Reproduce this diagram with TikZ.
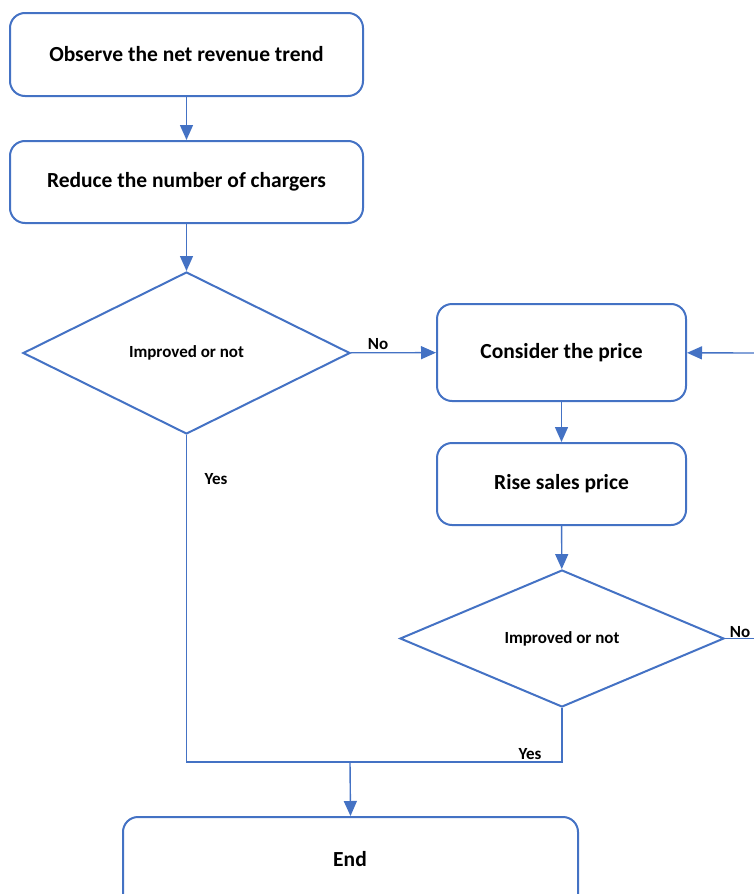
\documentclass[tikz,border=0pt]{standalone}
\usepackage{fontspec}
\setmainfont{Carlito}
\usetikzlibrary{shapes.geometric,arrows.meta}
\definecolor{flowblue}{HTML}{4472C4}
\begin{document}
\begin{tikzpicture}[x=1pt,y=-1pt,
    stepbox/.style={draw=flowblue,line width=2pt,rounded corners=15pt,align=center,inner sep=0pt,font=\bfseries\fontsize{21.5}{24}\selectfont},
    decide/.style={draw=flowblue,line width=2pt,diamond,inner sep=0pt,font=\bfseries\fontsize{17}{19}\selectfont},
    flow/.style={draw=flowblue,line width=1.4pt,-{Triangle[length=15pt,width=13pt]}},
    plain/.style={draw=flowblue,line width=1.4pt},
    lbl/.style={font=\bfseries\fontsize{17}{19}\selectfont,inner sep=0pt}]
        \useasboundingbox (0,0) rectangle (754,894);

        % Left column
        \node[stepbox,minimum width=353pt,minimum height=83pt] (observe) at (186.5,54.5) {Observe the net revenue trend};
        \node[stepbox,minimum width=353pt,minimum height=82pt] (reduce) at (186.5,182) {Reduce the number of chargers};
        \node[decide,minimum width=327pt,minimum height=162pt] (check1) at (186.5,353) {Improved or not};

        % Right column
        \node[stepbox,minimum width=249pt,minimum height=97pt] (price) at (561.5,352.5) {Consider the price};
        \node[stepbox,minimum width=249pt,minimum height=82pt] (rise) at (561.5,484) {Rise sales price};
        \node[decide,minimum width=324pt,minimum height=137pt] (check2) at (562,638.5) {Improved or not};

        % End box runs past the bottom edge
        \node[stepbox,minimum width=455pt,minimum height=100pt] (finish) at (350.5,867) {};
        \node[lbl,font=\bfseries\fontsize{21.5}{24}\selectfont] (endtxt) at (350,859) {End};

        % Free ends and joints
        \coordinate (backin) at (754,353);
        \coordinate (noout) at (754,638.5);
        \coordinate (joinR) at (562,762);
        \coordinate (merge) at (350,762);

        % Connectors
        \draw[flow] (observe) -- (reduce);
        \draw[flow] (reduce) -- (check1);
        \draw[flow] (check1) -- (price);
        \draw[flow] (price) -- (rise);
        \draw[flow] (rise) -- (check2);
        \draw[flow] (backin) -- (price);
        \draw[plain] (check2.east) -- (noout);
        \draw[plain] (check1.south) |- (joinR) -- (check2.south);
        \draw[flow] (merge) -- (finish.north);

        % Labels
        \node[lbl] (no1) at (378,344) {No};
        \node[lbl] (yes1) at (216,479) {Yes};
        \node[lbl] (no2) at (740,632) {No};
        \node[lbl] (yes2) at (530,754) {Yes};
\end{tikzpicture}
\end{document}
